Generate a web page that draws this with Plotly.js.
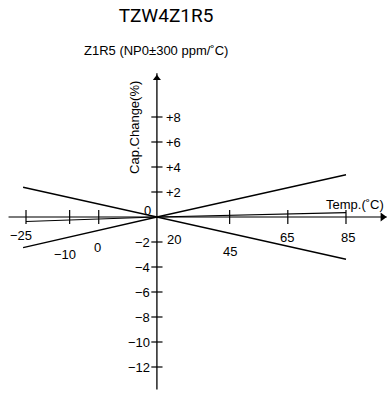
<!DOCTYPE html>
<html>
<head>
<meta charset="utf-8">
<script src="https://cdn.plot.ly/plotly-3.0.1.min.js"></script>
<style>html,body{margin:0;padding:0;background:#fff;}#chart{width:388px;height:393px;}</style>
</head>
<body>
<div id="chart"></div>
<script>
// ---- data ----
const chartTitle = "TZW4Z1R5";
const subTitle = "Z1R5 (NP0±300 ppm/˚C)";
const xAxisLabel = "Temp.(˚C)";
const yAxisLabel = "Cap.Change(%)";

const refTemp = 20;                       // origin of the diagram (°C)
const tempTicks = [-25, -10, 0, 20, 45, 65, 85];
const tempTickLabels = ["−25", "−10", "0", "20", "45", "65", "85"];
const capTicks = [8, 6, 4, 2, -2, -4, -6, -8, -10, -12];
const capTickLabels = ["+8", "+6", "+4", "+2", "−2", "−4", "−6", "−8", "−10", "−12"];

const envTemp = [-26, 20, 85];
const envUpper = [2.38, 0, 3.38];
const envLower = [-2.45, 0, -3.38];

const typTemp = [-25, 20, 85];
const typValue = [-0.36, 0, 0.35];

const xAxisExtent = [-31, 99];
const yAxisExtent = [-13.8, 11.5];

// ---- styles / layout helpers ----
const FONT = "Liberation Sans, Arial, sans-serif";
const W = 388, H = 393;
const xRange = [-33.94, 99.44];
const yRange = [-14.08, 17.36];
// pixel offsets of the staggered temperature labels (style only)
const tempLabelShift = [[-5, -18], [-5, -37], [-1, -30], [17, -22], [0, -34], [-1, -20], [2, -20]];

const traces = [];
// x axis (gray)
traces.push({x: xAxisExtent, y: [0, 0], mode: "lines", line: {color: "#7a7a7a", width: 2}, hoverinfo: "skip"});
// y axis
traces.push({x: [refTemp, refTemp], y: yAxisExtent, mode: "lines", line: {color: "#000", width: 1.3}, hoverinfo: "skip"});
// envelope lines
traces.push({x: envTemp, y: envUpper, mode: "lines", line: {color: "#000", width: 1.3}, hoverinfo: "skip"});
traces.push({x: envTemp, y: envLower, mode: "lines", line: {color: "#000", width: 1.3}, hoverinfo: "skip"});
// typical line
traces.push({x: typTemp, y: typValue, mode: "lines", line: {color: "#000", width: 1.1}, hoverinfo: "skip"});
// x ticks
const xt = tempTicks.filter(t => t !== refTemp);
traces.push({x: xt, y: xt.map(() => 0), mode: "markers",
  marker: {symbol: "line-ns-open", size: 10, color: "#000", line: {color: "#000", width: 1.2}}, hoverinfo: "skip"});
// y ticks
traces.push({x: capTicks.map(() => refTemp), y: capTicks, mode: "markers",
  marker: {symbol: "line-ew-open", size: 8, color: "#000", line: {color: "#000", width: 1.2}}, hoverinfo: "skip"});
// arrow heads
traces.push({x: [xAxisExtent[1] - 1.4], y: [0], mode: "markers",
  marker: {symbol: "triangle-right", size: 8, color: "#000"}, hoverinfo: "skip"});
traces.push({x: [refTemp], y: [yAxisExtent[1] - 0.4], mode: "markers",
  marker: {symbol: "triangle-up", size: 7, color: "#000"}, hoverinfo: "skip"});

const annotations = [];
tempTicks.forEach((t, i) => {
  annotations.push({x: t, y: 0, xref: "x", yref: "y", text: tempTickLabels[i], showarrow: false,
    xanchor: "center", yanchor: "middle", xshift: tempLabelShift[i][0], yshift: tempLabelShift[i][1],
    font: {family: FONT, size: 13, color: "#000"}});
});
capTicks.forEach((v, i) => {
  const pos = v > 0;
  annotations.push({x: refTemp, y: v, xref: "x", yref: "y", text: capTickLabels[i], showarrow: false,
    xanchor: pos ? "left" : "right", yanchor: "middle", xshift: pos ? 7 : -5, yshift: 0,
    font: {family: FONT, size: 13, color: "#000"}});
});
// zero label
annotations.push({x: refTemp, y: 0, xref: "x", yref: "y", text: "0", showarrow: false,
  xanchor: "center", yanchor: "middle", xshift: -9, yshift: 7, font: {family: FONT, size: 13, color: "#000"}});
// axis names
annotations.push({x: xAxisExtent[1], y: 0, xref: "x", yref: "y", text: xAxisLabel, showarrow: false,
  xanchor: "right", yanchor: "middle", xshift: -1, yshift: 13, font: {family: FONT, size: 13, color: "#000"}});
annotations.push({x: refTemp, y: 7.2, xref: "x", yref: "y", text: yAxisLabel, showarrow: false, textangle: -90,
  xanchor: "center", yanchor: "middle", xshift: -23, font: {family: FONT, size: 13, color: "#000"}});
// subtitle
annotations.push({x: 156 / W, y: 1 - 50 / H, xref: "paper", yref: "paper", text: subTitle, showarrow: false,
  xanchor: "center", yanchor: "middle", font: {family: FONT, size: 13, color: "#000"}});

const layout = {
  width: W, height: H,
  margin: {l: 0, r: 0, t: 0, b: 0},
  paper_bgcolor: "#fff", plot_bgcolor: "#fff",
  showlegend: false,
  title: {text: chartTitle, x: 166 / W, xanchor: "center", xref: "paper", y: 1 - 15 / H, yanchor: "middle", yref: "container",
    font: {family: "Roboto, sans-serif", size: 19, weight: 400, color: "#000"}},
  xaxis: {range: xRange, visible: false, fixedrange: true},
  yaxis: {range: yRange, visible: false, fixedrange: true},
  annotations: annotations
};

Plotly.newPlot("chart", traces, layout, {staticPlot: true, displayModeBar: false});
</script>
</body>
</html>
